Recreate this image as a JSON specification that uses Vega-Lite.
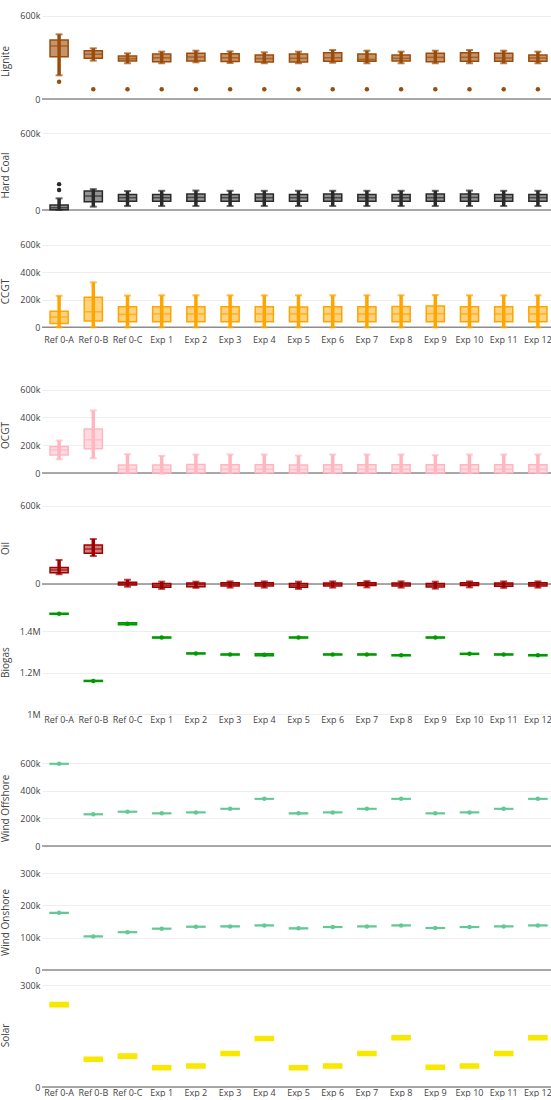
{
"$schema": "https://vega.github.io/schema/vega-lite/v6.json",
"padding": {"left": 0, "top": 0, "right": 0, "bottom": 0},
"bounds": "flush",
"spacing": 0,
"config": {
 "view": {"stroke": null},
 "font": "Open Sans",
 "axis": {"labelFont": "Open Sans", "labelFontSize": 9, "labelColor": "#444", "titleFont": "Open Sans", "titleFontSize": 10, "titleColor": "#444", "titleFontWeight": "normal", "domain": false, "ticks": false, "gridColor": "#eeeeee", "gridWidth": 1},
 "axisY": {"labelOverlap": false}
},
"datasets": {
 "d": [
  {"p":"Lignite","c":"Ref 0-A","lo":171000,"q1":305000,"med":383000,"q3":426000,"hi":467000},
  {"p":"Lignite","c":"Ref 0-B","lo":277000,"q1":294000,"med":323000,"q3":349000,"hi":366000},
  {"p":"Lignite","c":"Ref 0-C","lo":258000,"q1":274000,"med":291000,"q3":310000,"hi":330000},
  {"p":"Lignite","c":"Exp 1","lo":258000,"q1":269000,"med":298000,"q3":325000,"hi":342000},
  {"p":"Lignite","c":"Exp 2","lo":265000,"q1":274000,"med":303000,"q3":330000,"hi":349000},
  {"p":"Lignite","c":"Exp 3","lo":260000,"q1":270000,"med":298000,"q3":326000,"hi":344000},
  {"p":"Lignite","c":"Exp 4","lo":258000,"q1":267000,"med":292000,"q3":318000,"hi":337000},
  {"p":"Lignite","c":"Exp 5","lo":258000,"q1":267000,"med":294000,"q3":325000,"hi":342000},
  {"p":"Lignite","c":"Exp 6","lo":262000,"q1":272000,"med":298000,"q3":334000,"hi":354000},
  {"p":"Lignite","c":"Exp 7","lo":258000,"q1":272000,"med":286000,"q3":325000,"hi":349000},
  {"p":"Lignite","c":"Exp 8","lo":258000,"q1":274000,"med":294000,"q3":318000,"hi":342000},
  {"p":"Lignite","c":"Exp 9","lo":258000,"q1":269000,"med":301000,"q3":330000,"hi":349000},
  {"p":"Lignite","c":"Exp 10","lo":258000,"q1":272000,"med":301000,"q3":334000,"hi":354000},
  {"p":"Lignite","c":"Exp 11","lo":258000,"q1":272000,"med":296000,"q3":330000,"hi":349000},
  {"p":"Lignite","c":"Exp 12","lo":258000,"q1":272000,"med":296000,"q3":318000,"hi":342000},
  {"p":"Lignite","c":"Ref 0-A","v":125000},
  {"p":"Lignite","c":"Ref 0-B","v":70000},
  {"p":"Lignite","c":"Ref 0-C","v":70000},
  {"p":"Lignite","c":"Exp 1","v":70000},
  {"p":"Lignite","c":"Exp 2","v":70000},
  {"p":"Lignite","c":"Exp 3","v":70000},
  {"p":"Lignite","c":"Exp 4","v":70000},
  {"p":"Lignite","c":"Exp 5","v":70000},
  {"p":"Lignite","c":"Exp 6","v":70000},
  {"p":"Lignite","c":"Exp 7","v":70000},
  {"p":"Lignite","c":"Exp 8","v":70000},
  {"p":"Lignite","c":"Exp 9","v":70000},
  {"p":"Lignite","c":"Exp 10","v":70000},
  {"p":"Lignite","c":"Exp 11","v":70000},
  {"p":"Lignite","c":"Exp 12","v":70000},

  {"p":"Hard Coal","c":"Ref 0-A","lo":0,"q1":2000,"med":18000,"q3":39000,"hi":91000},
  {"p":"Hard Coal","c":"Ref 0-B","lo":26000,"q1":65000,"med":109000,"q3":148000,"hi":163000},
  {"p":"Hard Coal","c":"Ref 0-C","lo":31000,"q1":68000,"med":96000,"q3":122000,"hi":148000},
  {"p":"Hard Coal","c":"Exp 1","lo":31000,"q1":68000,"med":96000,"q3":122000,"hi":150000},
  {"p":"Hard Coal","c":"Exp 2","lo":31000,"q1":68000,"med":98000,"q3":124000,"hi":152000},
  {"p":"Hard Coal","c":"Exp 3","lo":31000,"q1":68000,"med":96000,"q3":122000,"hi":150000},
  {"p":"Hard Coal","c":"Exp 4","lo":31000,"q1":68000,"med":96000,"q3":124000,"hi":150000},
  {"p":"Hard Coal","c":"Exp 5","lo":31000,"q1":68000,"med":96000,"q3":122000,"hi":150000},
  {"p":"Hard Coal","c":"Exp 6","lo":31000,"q1":68000,"med":96000,"q3":124000,"hi":150000},
  {"p":"Hard Coal","c":"Exp 7","lo":31000,"q1":68000,"med":96000,"q3":122000,"hi":150000},
  {"p":"Hard Coal","c":"Exp 8","lo":31000,"q1":68000,"med":96000,"q3":122000,"hi":150000},
  {"p":"Hard Coal","c":"Exp 9","lo":31000,"q1":68000,"med":96000,"q3":124000,"hi":150000},
  {"p":"Hard Coal","c":"Exp 10","lo":31000,"q1":68000,"med":98000,"q3":124000,"hi":152000},
  {"p":"Hard Coal","c":"Exp 11","lo":31000,"q1":68000,"med":96000,"q3":122000,"hi":150000},
  {"p":"Hard Coal","c":"Exp 12","lo":31000,"q1":68000,"med":96000,"q3":122000,"hi":150000},
  {"p":"Hard Coal","c":"Ref 0-A","v":156000},
  {"p":"Hard Coal","c":"Ref 0-A","v":202000},

  {"p":"CCGT","c":"Ref 0-A","lo":0,"q1":27000,"med":75000,"q3":116000,"hi":229000},
  {"p":"CCGT","c":"Ref 0-B","lo":0,"q1":46000,"med":113000,"q3":219000,"hi":327000},
  {"p":"CCGT","c":"Ref 0-C","lo":0,"q1":41000,"med":94000,"q3":149000,"hi":231000},
  {"p":"CCGT","c":"Exp 1","lo":0,"q1":41000,"med":97000,"q3":149000,"hi":233000},
  {"p":"CCGT","c":"Exp 2","lo":0,"q1":41000,"med":97000,"q3":149000,"hi":233000},
  {"p":"CCGT","c":"Exp 3","lo":0,"q1":41000,"med":97000,"q3":149000,"hi":233000},
  {"p":"CCGT","c":"Exp 4","lo":0,"q1":41000,"med":97000,"q3":149000,"hi":233000},
  {"p":"CCGT","c":"Exp 5","lo":0,"q1":41000,"med":97000,"q3":147000,"hi":233000},
  {"p":"CCGT","c":"Exp 6","lo":0,"q1":41000,"med":97000,"q3":149000,"hi":233000},
  {"p":"CCGT","c":"Exp 7","lo":0,"q1":41000,"med":97000,"q3":149000,"hi":233000},
  {"p":"CCGT","c":"Exp 8","lo":0,"q1":41000,"med":97000,"q3":151000,"hi":233000},
  {"p":"CCGT","c":"Exp 9","lo":0,"q1":41000,"med":99000,"q3":155000,"hi":235000},
  {"p":"CCGT","c":"Exp 10","lo":0,"q1":41000,"med":97000,"q3":149000,"hi":233000},
  {"p":"CCGT","c":"Exp 11","lo":0,"q1":41000,"med":97000,"q3":149000,"hi":233000},
  {"p":"CCGT","c":"Exp 12","lo":0,"q1":41000,"med":97000,"q3":149000,"hi":233000},

  {"p":"OCGT","c":"Ref 0-A","lo":99000,"q1":130000,"med":166000,"q3":190000,"hi":234000},
  {"p":"OCGT","c":"Ref 0-B","lo":106000,"q1":174000,"med":239000,"q3":316000,"hi":450000},
  {"p":"OCGT","c":"Ref 0-C","lo":0,"q1":2000,"med":27000,"q3":58000,"hi":135000},
  {"p":"OCGT","c":"Exp 1","lo":-5000,"q1":0,"med":25000,"q3":58000,"hi":123000},
  {"p":"OCGT","c":"Exp 2","lo":0,"q1":2000,"med":27000,"q3":62000,"hi":133000},
  {"p":"OCGT","c":"Exp 3","lo":0,"q1":2000,"med":27000,"q3":60000,"hi":133000},
  {"p":"OCGT","c":"Exp 4","lo":0,"q1":2000,"med":27000,"q3":60000,"hi":133000},
  {"p":"OCGT","c":"Exp 5","lo":-2000,"q1":0,"med":25000,"q3":58000,"hi":125000},
  {"p":"OCGT","c":"Exp 6","lo":0,"q1":2000,"med":27000,"q3":60000,"hi":133000},
  {"p":"OCGT","c":"Exp 7","lo":0,"q1":2000,"med":27000,"q3":60000,"hi":133000},
  {"p":"OCGT","c":"Exp 8","lo":0,"q1":2000,"med":27000,"q3":60000,"hi":133000},
  {"p":"OCGT","c":"Exp 9","lo":-2000,"q1":0,"med":25000,"q3":60000,"hi":128000},
  {"p":"OCGT","c":"Exp 10","lo":0,"q1":2000,"med":27000,"q3":60000,"hi":133000},
  {"p":"OCGT","c":"Exp 11","lo":0,"q1":2000,"med":27000,"q3":60000,"hi":133000},
  {"p":"OCGT","c":"Exp 12","lo":0,"q1":2000,"med":27000,"q3":60000,"hi":133000},

  {"p":"Oil","c":"Ref 0-A","lo":75000,"q1":87000,"med":108000,"q3":126000,"hi":185000},
  {"p":"Oil","c":"Ref 0-B","lo":215000,"q1":236000,"med":269000,"q3":300000,"hi":346000},
  {"p":"Oil","c":"Ref 0-C","lo":-21000,"q1":-8000,"med":3000,"q3":13000,"hi":33000},
  {"p":"Oil","c":"Exp 1","lo":-38000,"q1":-26000,"med":-13000,"q3":3000,"hi":18000},
  {"p":"Oil","c":"Exp 2","lo":-30000,"q1":-21000,"med":-5000,"q3":8000,"hi":18000},
  {"p":"Oil","c":"Exp 3","lo":-28000,"q1":-15000,"med":-3000,"q3":10000,"hi":20000},
  {"p":"Oil","c":"Exp 4","lo":-28000,"q1":-15000,"med":-3000,"q3":10000,"hi":20000},
  {"p":"Oil","c":"Exp 5","lo":-38000,"q1":-26000,"med":-12000,"q3":3000,"hi":18000},
  {"p":"Oil","c":"Exp 6","lo":-28000,"q1":-15000,"med":-3000,"q3":8000,"hi":20000},
  {"p":"Oil","c":"Exp 7","lo":-26000,"q1":-12000,"med":-2000,"q3":10000,"hi":22000},
  {"p":"Oil","c":"Exp 8","lo":-28000,"q1":-15000,"med":-3000,"q3":8000,"hi":20000},
  {"p":"Oil","c":"Exp 9","lo":-36000,"q1":-24000,"med":-10000,"q3":3000,"hi":18000},
  {"p":"Oil","c":"Exp 10","lo":-26000,"q1":-12000,"med":-2000,"q3":10000,"hi":20000},
  {"p":"Oil","c":"Exp 11","lo":-30000,"q1":-18000,"med":-5000,"q3":8000,"hi":20000},
  {"p":"Oil","c":"Exp 12","lo":-28000,"q1":-15000,"med":-3000,"q3":10000,"hi":20000},

  {"p":"Biogas","c":"Ref 0-A","q1":1482500,"med":1485000,"q3":1487500,"v":1485000},
  {"p":"Biogas","c":"Ref 0-B","q1":1157500,"med":1160000,"q3":1162500,"v":1160000},
  {"p":"Biogas","c":"Ref 0-C","q1":1432000,"med":1437000,"q3":1442000,"v":1437000},
  {"p":"Biogas","c":"Exp 1","q1":1367500,"med":1370000,"q3":1372500,"v":1370000},
  {"p":"Biogas","c":"Exp 2","q1":1290500,"med":1293000,"q3":1295500,"v":1293000},
  {"p":"Biogas","c":"Exp 3","q1":1285500,"med":1288000,"q3":1290500,"v":1288000},
  {"p":"Biogas","c":"Exp 4","q1":1282000,"med":1287000,"q3":1292000,"v":1287000},
  {"p":"Biogas","c":"Exp 5","q1":1367500,"med":1370000,"q3":1372500,"v":1370000},
  {"p":"Biogas","c":"Exp 6","q1":1285500,"med":1288000,"q3":1290500,"v":1288000},
  {"p":"Biogas","c":"Exp 7","q1":1285500,"med":1288000,"q3":1290500,"v":1288000},
  {"p":"Biogas","c":"Exp 8","q1":1281500,"med":1284000,"q3":1286500,"v":1284000},
  {"p":"Biogas","c":"Exp 9","q1":1367500,"med":1370000,"q3":1372500,"v":1370000},
  {"p":"Biogas","c":"Exp 10","q1":1288500,"med":1291000,"q3":1293500,"v":1291000},
  {"p":"Biogas","c":"Exp 11","q1":1285500,"med":1288000,"q3":1290500,"v":1288000},
  {"p":"Biogas","c":"Exp 12","q1":1281500,"med":1284000,"q3":1286500,"v":1284000},

  {"p":"Wind Offshore","c":"Ref 0-A","q1":592000,"med":594000,"q3":596000,"v":594000},
  {"p":"Wind Offshore","c":"Ref 0-B","q1":227000,"med":229000,"q3":231000,"v":229000},
  {"p":"Wind Offshore","c":"Ref 0-C","q1":246000,"med":248000,"q3":250000,"v":248000},
  {"p":"Wind Offshore","c":"Exp 1","q1":234000,"med":236000,"q3":238000,"v":236000},
  {"p":"Wind Offshore","c":"Exp 2","q1":241000,"med":243000,"q3":245000,"v":243000},
  {"p":"Wind Offshore","c":"Exp 3","q1":267000,"med":269000,"q3":271000,"v":269000},
  {"p":"Wind Offshore","c":"Exp 4","q1":339000,"med":341000,"q3":343000,"v":341000},
  {"p":"Wind Offshore","c":"Exp 5","q1":234000,"med":236000,"q3":238000,"v":236000},
  {"p":"Wind Offshore","c":"Exp 6","q1":241000,"med":243000,"q3":245000,"v":243000},
  {"p":"Wind Offshore","c":"Exp 7","q1":267000,"med":269000,"q3":271000,"v":269000},
  {"p":"Wind Offshore","c":"Exp 8","q1":339000,"med":341000,"q3":343000,"v":341000},
  {"p":"Wind Offshore","c":"Exp 9","q1":234000,"med":236000,"q3":238000,"v":236000},
  {"p":"Wind Offshore","c":"Exp 10","q1":241000,"med":243000,"q3":245000,"v":243000},
  {"p":"Wind Offshore","c":"Exp 11","q1":267000,"med":269000,"q3":271000,"v":269000},
  {"p":"Wind Offshore","c":"Exp 12","q1":339000,"med":341000,"q3":343000,"v":341000},

  {"p":"Wind Onshore","c":"Ref 0-A","q1":176000,"med":177000,"q3":178000,"v":177000},
  {"p":"Wind Onshore","c":"Ref 0-B","q1":103000,"med":104000,"q3":105000,"v":104000},
  {"p":"Wind Onshore","c":"Ref 0-C","q1":116000,"med":117000,"q3":118000,"v":117000},
  {"p":"Wind Onshore","c":"Exp 1","q1":127000,"med":128000,"q3":129000,"v":128000},
  {"p":"Wind Onshore","c":"Exp 2","q1":133000,"med":134000,"q3":135000,"v":134000},
  {"p":"Wind Onshore","c":"Exp 3","q1":134000,"med":135000,"q3":136000,"v":135000},
  {"p":"Wind Onshore","c":"Exp 4","q1":137000,"med":138000,"q3":139000,"v":138000},
  {"p":"Wind Onshore","c":"Exp 5","q1":128000,"med":129000,"q3":130000,"v":129000},
  {"p":"Wind Onshore","c":"Exp 6","q1":132000,"med":133000,"q3":134000,"v":133000},
  {"p":"Wind Onshore","c":"Exp 7","q1":134000,"med":135000,"q3":136000,"v":135000},
  {"p":"Wind Onshore","c":"Exp 8","q1":137000,"med":138000,"q3":139000,"v":138000},
  {"p":"Wind Onshore","c":"Exp 9","q1":129000,"med":130000,"q3":131000,"v":130000},
  {"p":"Wind Onshore","c":"Exp 10","q1":132000,"med":133000,"q3":134000,"v":133000},
  {"p":"Wind Onshore","c":"Exp 11","q1":134000,"med":135000,"q3":136000,"v":135000},
  {"p":"Wind Onshore","c":"Exp 12","q1":137000,"med":138000,"q3":139000,"v":138000},

  {"p":"Solar","c":"Ref 0-A","q1":237000,"med":243000,"q3":249000},
  {"p":"Solar","c":"Ref 0-B","q1":76000,"med":82000,"q3":88000},
  {"p":"Solar","c":"Ref 0-C","q1":85000,"med":91000,"q3":97000},
  {"p":"Solar","c":"Exp 1","q1":51000,"med":57000,"q3":63000},
  {"p":"Solar","c":"Exp 2","q1":56000,"med":62000,"q3":68000},
  {"p":"Solar","c":"Exp 3","q1":93000,"med":99000,"q3":105000},
  {"p":"Solar","c":"Exp 4","q1":137000,"med":143000,"q3":149000},
  {"p":"Solar","c":"Exp 5","q1":51000,"med":57000,"q3":63000},
  {"p":"Solar","c":"Exp 6","q1":56000,"med":62000,"q3":68000},
  {"p":"Solar","c":"Exp 7","q1":93000,"med":99000,"q3":105000},
  {"p":"Solar","c":"Exp 8","q1":139000,"med":145000,"q3":151000},
  {"p":"Solar","c":"Exp 9","q1":52000,"med":58000,"q3":64000},
  {"p":"Solar","c":"Exp 10","q1":56000,"med":62000,"q3":68000},
  {"p":"Solar","c":"Exp 11","q1":93000,"med":99000,"q3":105000},
  {"p":"Solar","c":"Exp 12","q1":139000,"med":145000,"q3":151000}
 ]
},
"vconcat": [
 {"width": 513, "height": 99, "data": {"name": "d"}, "transform": [{"filter": "datum.p === 'Lignite'"}],
  "layer": [
   {"transform": [{"aggregate": [{"op": "count", "as": "n"}]}], "mark": {"type": "rule", "color": "#8c8c8c", "strokeWidth": 1.5}, "encoding": {"y": {"datum": 0}}},
   {"mark": {"type": "rule", "color": "#9c4c0a", "strokeWidth": 3.5}, "encoding": {"x": {"field": "c", "type": "nominal", "scale": {"domain": ["Ref 0-A","Ref 0-B","Ref 0-C","Exp 1","Exp 2","Exp 3","Exp 4","Exp 5","Exp 6","Exp 7","Exp 8","Exp 9","Exp 10","Exp 11","Exp 12"], "paddingInner": 0, "paddingOuter": 0}, "axis": null}, "y": {"field": "lo", "type": "quantitative", "title": "Lignite", "scale": {"domain": [0, 715000], "nice": false, "zero": false}, "axis": {"values": [0, 200000, 400000, 600000], "labelExpr": "datum.value == 0 ? '0' : (abs(datum.value) >= 1000000 ? format(datum.value / 1000000, '~g') + 'M' : format(datum.value / 1000, '~g') + 'k')", "grid": true, "labelPadding": 2, "labelOverlap": false, "titleX": -32, "titleY": 61}}, "y2": {"field": "hi"}}},
   {"mark": {"type": "bar", "color": "#9c4c0a", "fillOpacity": 0.6, "stroke": "#9c4c0a", "strokeWidth": 1.5, "width": {"band": 0.53}}, "encoding": {"x": {"field": "c", "type": "nominal"}, "y": {"field": "q1", "type": "quantitative"}, "y2": {"field": "q3"}}},
   {"mark": {"type": "tick", "color": "#9c4c0a", "size": 18, "thickness": 1.5}, "encoding": {"x": {"field": "c", "type": "nominal"}, "y": {"field": "med", "type": "quantitative"}}},
   {"mark": {"type": "tick", "color": "#9c4c0a", "size": 7, "thickness": 2}, "encoding": {"x": {"field": "c", "type": "nominal"}, "y": {"field": "lo", "type": "quantitative"}}},
   {"mark": {"type": "tick", "color": "#9c4c0a", "size": 7, "thickness": 2}, "encoding": {"x": {"field": "c", "type": "nominal"}, "y": {"field": "hi", "type": "quantitative"}}},
   {"mark": {"type": "circle", "color": "#9c4c0a", "size": 20, "opacity": 1}, "encoding": {"x": {"field": "c", "type": "nominal"}, "y": {"field": "v", "type": "quantitative"}}}
  ]},
 {"width": 513, "height": 111, "data": {"name": "d"}, "transform": [{"filter": "datum.p === 'Hard Coal'"}],
  "layer": [
   {"transform": [{"aggregate": [{"op": "count", "as": "n"}]}], "mark": {"type": "rule", "color": "#8c8c8c", "strokeWidth": 1.5}, "encoding": {"y": {"datum": 0}}},
   {"mark": {"type": "rule", "color": "#2a2a2a", "strokeWidth": 3.5}, "encoding": {"x": {"field": "c", "type": "nominal", "scale": {"domain": ["Ref 0-A","Ref 0-B","Ref 0-C","Exp 1","Exp 2","Exp 3","Exp 4","Exp 5","Exp 6","Exp 7","Exp 8","Exp 9","Exp 10","Exp 11","Exp 12"], "paddingInner": 0, "paddingOuter": 0}, "axis": null}, "y": {"field": "lo", "type": "quantitative", "title": "Hard Coal", "scale": {"domain": [0, 867000], "nice": false, "zero": false}, "axis": {"values": [0, 200000, 400000, 600000], "labelExpr": "datum.value == 0 ? '0' : (abs(datum.value) >= 1000000 ? format(datum.value / 1000000, '~g') + 'M' : format(datum.value / 1000, '~g') + 'k')", "grid": true, "labelPadding": 2, "labelOverlap": false, "titleX": -32, "titleY": 76}}, "y2": {"field": "hi"}}},
   {"mark": {"type": "bar", "color": "#2a2a2a", "fillOpacity": 0.5, "stroke": "#2a2a2a", "strokeWidth": 1.5, "width": {"band": 0.53}}, "encoding": {"x": {"field": "c", "type": "nominal"}, "y": {"field": "q1", "type": "quantitative"}, "y2": {"field": "q3"}}},
   {"mark": {"type": "tick", "color": "#2a2a2a", "size": 18, "thickness": 1.5}, "encoding": {"x": {"field": "c", "type": "nominal"}, "y": {"field": "med", "type": "quantitative"}}},
   {"mark": {"type": "tick", "color": "#2a2a2a", "size": 7, "thickness": 2}, "encoding": {"x": {"field": "c", "type": "nominal"}, "y": {"field": "lo", "type": "quantitative"}}},
   {"mark": {"type": "tick", "color": "#2a2a2a", "size": 7, "thickness": 2}, "encoding": {"x": {"field": "c", "type": "nominal"}, "y": {"field": "hi", "type": "quantitative"}}},
   {"mark": {"type": "circle", "color": "#2a2a2a", "size": 20, "opacity": 1}, "encoding": {"x": {"field": "c", "type": "nominal"}, "y": {"field": "v", "type": "quantitative"}}}
  ]},
 {"width": 513, "height": 124, "data": {"name": "d"}, "transform": [{"filter": "datum.p === 'CCGT'"}],
  "layer": [
   {"transform": [{"aggregate": [{"op": "count", "as": "n"}]}], "mark": {"type": "rule", "color": "#8c8c8c", "strokeWidth": 1.5}, "encoding": {"y": {"datum": 0}}},
   {"mark": {"type": "rule", "color": "#ffa500", "strokeWidth": 3.5}, "encoding": {"x": {"field": "c", "type": "nominal", "scale": {"domain": ["Ref 0-A","Ref 0-B","Ref 0-C","Exp 1","Exp 2","Exp 3","Exp 4","Exp 5","Exp 6","Exp 7","Exp 8","Exp 9","Exp 10","Exp 11","Exp 12"], "paddingInner": 0, "paddingOuter": 0}, "axis": {"title": null, "labelAngle": 0, "labelPadding": 1, "grid": false}}, "y": {"field": "lo", "type": "quantitative", "title": "CCGT", "scale": {"domain": [-48700, 853100], "nice": false, "zero": false}, "axis": {"values": [0, 200000, 400000, 600000], "labelExpr": "datum.value == 0 ? '0' : (abs(datum.value) >= 1000000 ? format(datum.value / 1000000, '~g') + 'M' : format(datum.value / 1000, '~g') + 'k')", "grid": true, "labelPadding": 2, "labelOverlap": false, "titleX": -32, "titleY": 81}}, "y2": {"field": "hi"}}},
   {"mark": {"type": "bar", "color": "#ffa500", "fillOpacity": 0.5, "stroke": "#ffa500", "strokeWidth": 1.5, "width": {"band": 0.53}}, "encoding": {"x": {"field": "c", "type": "nominal"}, "y": {"field": "q1", "type": "quantitative"}, "y2": {"field": "q3"}}},
   {"mark": {"type": "tick", "color": "#ffa500", "size": 18, "thickness": 1.5}, "encoding": {"x": {"field": "c", "type": "nominal"}, "y": {"field": "med", "type": "quantitative"}}},
   {"mark": {"type": "tick", "color": "#ffa500", "size": 7, "thickness": 2}, "encoding": {"x": {"field": "c", "type": "nominal"}, "y": {"field": "lo", "type": "quantitative"}}},
   {"mark": {"type": "tick", "color": "#ffa500", "size": 7, "thickness": 2}, "encoding": {"x": {"field": "c", "type": "nominal"}, "y": {"field": "hi", "type": "quantitative"}}}
  ]},
 {"width": 513, "height": 139, "data": {"name": "d"}, "transform": [{"filter": "datum.p === 'OCGT'"}],
  "layer": [
   {"transform": [{"aggregate": [{"op": "count", "as": "n"}]}], "mark": {"type": "rule", "color": "#8c8c8c", "strokeWidth": 1.5}, "encoding": {"y": {"datum": 0}}},
   {"mark": {"type": "rule", "color": "#ffb6c1", "strokeWidth": 3.5}, "encoding": {"x": {"field": "c", "type": "nominal", "scale": {"domain": ["Ref 0-A","Ref 0-B","Ref 0-C","Exp 1","Exp 2","Exp 3","Exp 4","Exp 5","Exp 6","Exp 7","Exp 8","Exp 9","Exp 10","Exp 11","Exp 12"], "paddingInner": 0, "paddingOuter": 0}, "axis": null}, "y": {"field": "lo", "type": "quantitative", "title": "OCGT", "scale": {"domain": [0, 1000000], "nice": false, "zero": false}, "axis": {"values": [0, 200000, 400000, 600000], "labelExpr": "datum.value == 0 ? '0' : (abs(datum.value) >= 1000000 ? format(datum.value / 1000000, '~g') + 'M' : format(datum.value / 1000, '~g') + 'k')", "grid": true, "labelPadding": 2, "labelOverlap": false, "titleX": -32, "titleY": 101}}, "y2": {"field": "hi"}}},
   {"mark": {"type": "bar", "color": "#ffb6c1", "fillOpacity": 0.5, "stroke": "#ffb6c1", "strokeWidth": 1.5, "width": {"band": 0.53}}, "encoding": {"x": {"field": "c", "type": "nominal"}, "y": {"field": "q1", "type": "quantitative"}, "y2": {"field": "q3"}}},
   {"mark": {"type": "tick", "color": "#ffb6c1", "size": 18, "thickness": 1.5}, "encoding": {"x": {"field": "c", "type": "nominal"}, "y": {"field": "med", "type": "quantitative"}}},
   {"mark": {"type": "tick", "color": "#ffb6c1", "size": 7, "thickness": 2}, "encoding": {"x": {"field": "c", "type": "nominal"}, "y": {"field": "lo", "type": "quantitative"}}},
   {"mark": {"type": "tick", "color": "#ffb6c1", "size": 7, "thickness": 2}, "encoding": {"x": {"field": "c", "type": "nominal"}, "y": {"field": "hi", "type": "quantitative"}}}
  ]},
 {"width": 513, "height": 116, "data": {"name": "d"}, "transform": [{"filter": "datum.p === 'Oil'"}],
  "layer": [
   {"transform": [{"aggregate": [{"op": "count", "as": "n"}]}], "mark": {"type": "rule", "color": "#8c8c8c", "strokeWidth": 1.5}, "encoding": {"y": {"datum": 0}}},
   {"mark": {"type": "rule", "color": "#9e0000", "strokeWidth": 3.5}, "encoding": {"x": {"field": "c", "type": "nominal", "scale": {"domain": ["Ref 0-A","Ref 0-B","Ref 0-C","Exp 1","Exp 2","Exp 3","Exp 4","Exp 5","Exp 6","Exp 7","Exp 8","Exp 9","Exp 10","Exp 11","Exp 12"], "paddingInner": 0, "paddingOuter": 0}, "axis": null}, "y": {"field": "lo", "type": "quantitative", "title": "Oil", "scale": {"domain": [-38500, 853800], "nice": false, "zero": false}, "axis": {"values": [0, 200000, 400000, 600000], "labelExpr": "datum.value == 0 ? '0' : (abs(datum.value) >= 1000000 ? format(datum.value / 1000000, '~g') + 'M' : format(datum.value / 1000, '~g') + 'k')", "grid": true, "labelPadding": 2, "labelOverlap": false, "titleX": -32, "titleY": 75}}, "y2": {"field": "hi"}}},
   {"mark": {"type": "bar", "color": "#9e0000", "fillOpacity": 0.5, "stroke": "#9e0000", "strokeWidth": 1.5, "width": {"band": 0.53}}, "encoding": {"x": {"field": "c", "type": "nominal"}, "y": {"field": "q1", "type": "quantitative"}, "y2": {"field": "q3"}}},
   {"mark": {"type": "tick", "color": "#9e0000", "size": 18, "thickness": 1.5}, "encoding": {"x": {"field": "c", "type": "nominal"}, "y": {"field": "med", "type": "quantitative"}}},
   {"mark": {"type": "tick", "color": "#9e0000", "size": 7, "thickness": 2}, "encoding": {"x": {"field": "c", "type": "nominal"}, "y": {"field": "lo", "type": "quantitative"}}},
   {"mark": {"type": "tick", "color": "#9e0000", "size": 7, "thickness": 2}, "encoding": {"x": {"field": "c", "type": "nominal"}, "y": {"field": "hi", "type": "quantitative"}}}
  ]},
 {"width": 513, "height": 125, "data": {"name": "d"}, "transform": [{"filter": "datum.p === 'Biogas'"}],
  "layer": [
   {"mark": {"type": "bar", "color": "#009a00", "fillOpacity": 0.5, "stroke": "#009a00", "strokeWidth": 1.5, "width": {"band": 0.53}}, "encoding": {"x": {"field": "c", "type": "nominal", "scale": {"domain": ["Ref 0-A","Ref 0-B","Ref 0-C","Exp 1","Exp 2","Exp 3","Exp 4","Exp 5","Exp 6","Exp 7","Exp 8","Exp 9","Exp 10","Exp 11","Exp 12"], "paddingInner": 0, "paddingOuter": 0}, "axis": {"title": null, "labelAngle": 0, "labelPadding": 1, "grid": false}}, "y": {"field": "q1", "type": "quantitative", "title": "Biogas", "scale": {"domain": [1000000, 1604700], "nice": false, "zero": false}, "axis": {"values": [1000000, 1100000, 1200000, 1300000, 1400000, 1500000], "labelExpr": "datum.value == 0 ? '0' : (abs(datum.value) >= 1000000 ? format(datum.value / 1000000, '~g') + 'M' : format(datum.value / 1000, '~g') + 'k')", "grid": true, "labelPadding": 2, "labelOverlap": false, "titleX": -32, "titleY": 73}}, "y2": {"field": "q3"}}},
   {"mark": {"type": "tick", "color": "#009a00", "size": 18, "thickness": 1.5}, "encoding": {"x": {"field": "c", "type": "nominal"}, "y": {"field": "med", "type": "quantitative"}}},
   {"mark": {"type": "circle", "color": "#009a00", "size": 20, "opacity": 1}, "encoding": {"x": {"field": "c", "type": "nominal"}, "y": {"field": "v", "type": "quantitative"}}}
  ]},
 {"width": 513, "height": 132, "data": {"name": "d"}, "transform": [{"filter": "datum.p === 'Wind Offshore'"}],
  "layer": [
   {"transform": [{"aggregate": [{"op": "count", "as": "n"}]}], "mark": {"type": "rule", "color": "#8c8c8c", "strokeWidth": 1.5}, "encoding": {"y": {"datum": 0}}},
   {"mark": {"type": "bar", "color": "#62c995", "fillOpacity": 0.5, "stroke": "#62c995", "strokeWidth": 1.5, "width": {"band": 0.53}}, "encoding": {"x": {"field": "c", "type": "nominal", "scale": {"domain": ["Ref 0-A","Ref 0-B","Ref 0-C","Exp 1","Exp 2","Exp 3","Exp 4","Exp 5","Exp 6","Exp 7","Exp 8","Exp 9","Exp 10","Exp 11","Exp 12"], "paddingInner": 0, "paddingOuter": 0}, "axis": null}, "y": {"field": "q1", "type": "quantitative", "title": "Wind Offshore", "scale": {"domain": [0, 954400], "nice": false, "zero": false}, "axis": {"values": [0, 200000, 400000, 600000], "labelExpr": "datum.value == 0 ? '0' : (abs(datum.value) >= 1000000 ? format(datum.value / 1000000, '~g') + 'M' : format(datum.value / 1000, '~g') + 'k')", "grid": true, "labelPadding": 2, "labelOverlap": false, "titleX": -32, "titleY": 94}}, "y2": {"field": "q3"}}},
   {"mark": {"type": "tick", "color": "#62c995", "size": 18, "thickness": 1.5}, "encoding": {"x": {"field": "c", "type": "nominal"}, "y": {"field": "med", "type": "quantitative"}}},
   {"mark": {"type": "circle", "color": "#62c995", "size": 20, "opacity": 1}, "encoding": {"x": {"field": "c", "type": "nominal"}, "y": {"field": "v", "type": "quantitative"}}}
  ]},
 {"width": 513, "height": 124, "data": {"name": "d"}, "transform": [{"filter": "datum.p === 'Wind Onshore'"}],
  "layer": [
   {"transform": [{"aggregate": [{"op": "count", "as": "n"}]}], "mark": {"type": "rule", "color": "#8c8c8c", "strokeWidth": 1.5}, "encoding": {"y": {"datum": 0}}},
   {"mark": {"type": "bar", "color": "#62c995", "fillOpacity": 0.5, "stroke": "#62c995", "strokeWidth": 1.5, "width": {"band": 0.53}}, "encoding": {"x": {"field": "c", "type": "nominal", "scale": {"domain": ["Ref 0-A","Ref 0-B","Ref 0-C","Exp 1","Exp 2","Exp 3","Exp 4","Exp 5","Exp 6","Exp 7","Exp 8","Exp 9","Exp 10","Exp 11","Exp 12"], "paddingInner": 0, "paddingOuter": 0}, "axis": null}, "y": {"field": "q1", "type": "quantitative", "title": "Wind Onshore", "scale": {"domain": [0, 383900], "nice": false, "zero": false}, "axis": {"values": [0, 100000, 200000, 300000], "labelExpr": "datum.value == 0 ? '0' : (abs(datum.value) >= 1000000 ? format(datum.value / 1000000, '~g') + 'M' : format(datum.value / 1000, '~g') + 'k')", "grid": true, "labelPadding": 2, "labelOverlap": false, "titleX": -32, "titleY": 76}}, "y2": {"field": "q3"}}},
   {"mark": {"type": "tick", "color": "#62c995", "size": 18, "thickness": 1.5}, "encoding": {"x": {"field": "c", "type": "nominal"}, "y": {"field": "med", "type": "quantitative"}}},
   {"mark": {"type": "circle", "color": "#62c995", "size": 20, "opacity": 1}, "encoding": {"x": {"field": "c", "type": "nominal"}, "y": {"field": "v", "type": "quantitative"}}}
  ]},
 {"width": 513, "height": 117, "data": {"name": "d"}, "transform": [{"filter": "datum.p === 'Solar'"}],
  "layer": [
   {"transform": [{"aggregate": [{"op": "count", "as": "n"}]}], "mark": {"type": "rule", "color": "#8c8c8c", "strokeWidth": 1.5}, "encoding": {"y": {"datum": 0}}},
   {"mark": {"type": "bar", "color": "#f8e800", "fillOpacity": 1, "stroke": "#f8e800", "strokeWidth": 1.5, "width": {"band": 0.53}}, "encoding": {"x": {"field": "c", "type": "nominal", "scale": {"domain": ["Ref 0-A","Ref 0-B","Ref 0-C","Exp 1","Exp 2","Exp 3","Exp 4","Exp 5","Exp 6","Exp 7","Exp 8","Exp 9","Exp 10","Exp 11","Exp 12"], "paddingInner": 0, "paddingOuter": 0}, "axis": {"title": null, "labelAngle": 0, "labelPadding": 1, "grid": false}}, "y": {"field": "q1", "type": "quantitative", "title": "Solar", "scale": {"domain": [0, 345100], "nice": false, "zero": false}, "axis": {"values": [0, 100000, 200000, 300000], "labelExpr": "datum.value == 0 ? '0' : (abs(datum.value) >= 1000000 ? format(datum.value / 1000000, '~g') + 'M' : format(datum.value / 1000, '~g') + 'k')", "grid": true, "labelPadding": 2, "labelOverlap": false, "titleX": -32, "titleY": 65}}, "y2": {"field": "q3"}}},
   {"mark": {"type": "tick", "color": "#f8e800", "size": 18, "thickness": 1.5}, "encoding": {"x": {"field": "c", "type": "nominal"}, "y": {"field": "med", "type": "quantitative"}}}
  ]}
]
}
